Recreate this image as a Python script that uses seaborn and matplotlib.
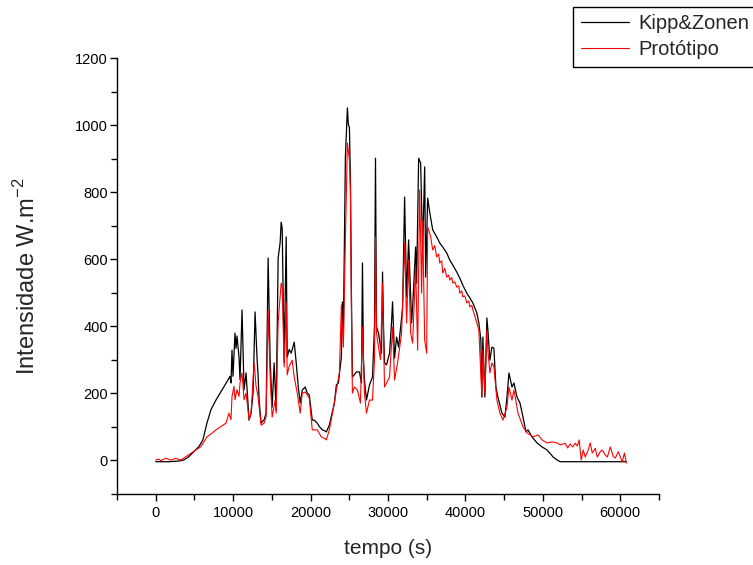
import matplotlib
matplotlib.use("Agg")
import matplotlib.pyplot as plt
import numpy as np
import pandas as pd
import seaborn as sns
from matplotlib.ticker import MultipleLocator

sns.set_theme(style="ticks")
plt.rcParams["font.family"] = ["Liberation Sans", "DejaVu Sans"]

# Kipp&Zonen reference pyranometer (time in s, intensity in W/m2)
t_kipp = [0, 1685, 2981, 3629, 4277, 4925, 5573, 6091, 6610, 7128, 7776, 8554,
          9331, 9590, 9720, 9850, 9979, 10238, 10368, 10498, 10757, 10886, 11146,
          11405, 11664, 12053, 12312, 12571, 12830, 13090, 13219, 13349, 13608,
          13997, 14256, 14515, 14774, 15034, 15293, 15552, 15811, 16070, 16200,
          16330, 16589, 16848, 16978, 17237, 17496, 17885, 18144, 18403, 18662,
          18922, 19310, 19570, 19829, 20218, 20477, 20866, 21125, 21514, 21773,
          22032, 22421, 23069, 23328, 23587, 23976, 24106, 24235, 24494, 24754,
          24883, 25013, 25142, 25272, 25402, 25661, 25920, 26309, 26568, 26698,
          26827, 26957, 27216, 27605, 27994, 28253, 28382, 28512, 28771, 29160,
          29290, 29419, 29549, 29808, 30197, 30456, 30586, 30845, 31104, 31363,
          31622, 31882, 32141, 32400, 32659, 33048, 33178, 33566, 33696, 33955,
          34214, 34474, 34733, 34862, 35122, 35381, 35770, 36288, 36677, 37066,
          37584, 37973, 38362, 38880, 39269, 39658, 40176, 40565, 40954, 41472,
          41731, 41990, 42120, 42250, 42509, 42768, 42898, 43157, 43416, 43675,
          43934, 44194, 44712, 45101, 45360, 45619, 46008, 46267, 46656, 47045,
          47434, 47822, 48082, 48600, 49248, 49896, 50544, 51322, 51840, 52229,
          57413, 60782]
kipp = [-5, -5, -3, 0, 10, 25, 40, 60, 110, 150, 179, 209,
        239, 250, 230, 328, 250, 379, 333, 370, 307, 240, 448,
        209, 260, 119, 140, 200, 442, 300, 254, 180, 110,
        120, 140, 603, 300, 158, 290, 149, 603, 650, 710,
        692, 290, 666, 307, 330, 319, 352, 290, 220, 170,
        209, 218, 200, 194, 119, 119, 110, 100, 90, 88,
        84, 104, 170, 224, 230, 307, 472, 388, 904, 1051,
        1000, 994, 842, 500, 248, 255, 263, 263, 230, 588,
        300, 239, 179, 224, 248, 400, 901, 397, 379, 319,
        561, 400, 290, 284, 319, 412, 472, 304, 367, 337,
        397, 454, 785, 487, 657, 409, 457, 636, 528, 901,
        886, 627, 875, 546, 782, 740, 687, 666, 648, 636,
        618, 597, 582, 561, 543, 522, 498, 484, 469, 439,
        409, 358, 188, 367, 188, 424, 388, 298, 337, 334,
        218, 188, 140, 128, 188, 260, 218, 230, 188, 170,
        128, 84, 90, 69, 51, 39, 30, 9, 0, -5,
        -5, -5]

# Prototipo (prototype sensor)
t_proto = [0, 389, 648, 1296, 1944, 2592, 3240, 3888, 4536, 5184, 5832, 6610,
           7258, 7776, 8424, 9072, 9461, 9720, 9850, 10109, 10238, 10498, 10757,
           10886, 11146, 11405, 11664, 12053, 12312, 12701, 12960, 13219, 13608,
           13997, 14256, 14515, 14774, 15034, 15422, 15552, 15811, 16200, 16330,
           16589, 16848, 16978, 17237, 17626, 17885, 18274, 18662, 18922, 19310,
           19829, 20218, 20866, 21384, 21773, 22032, 22421, 23069, 23328, 23717,
           23976, 24235, 24494, 24754, 25013, 25142, 25272, 25402, 25661, 26050,
           26438, 26698, 26957, 27216, 27605, 27994, 28253, 28382, 28512, 28771,
           29030, 29290, 29549, 29808, 30197, 30586, 30845, 31234, 31752, 32141,
           32400, 32659, 32918, 33178, 33566, 33826, 34085, 34344, 34474, 34733,
           34992, 35122, 35510, 35770, 36029, 36288, 36547, 36677, 36936, 37066,
           37325, 37584, 37843, 37973, 38232, 38362, 38621, 38880, 39139, 39269,
           39528, 39658, 39917, 40176, 40435, 40565, 40824, 40954, 41213, 41472,
           41731, 42120, 42250, 42509, 42768, 42898, 43157, 43416, 43675, 44064,
           44453, 44842, 45360, 45619, 46008, 46267, 46786, 47434, 47952, 48341,
           48730, 49378, 49896, 50544, 51192, 51840, 52229, 52877, 53200, 53525,
           53850, 54173, 54450, 54691, 54950, 55210, 55469, 55858, 56117, 56376,
           56765, 57024, 57413, 57672, 58061, 58320, 58709, 59098, 59357, 59746,
           60005, 60264, 60523, 60782]
proto = [0, 3, -2, 5, 0, 5, 0, 10, 20, 30, 40, 69,
         80, 90, 100, 110, 140, 120, 190, 220, 180, 210, 190,
         230, 260, 180, 200, 120, 140, 290, 220, 188, 104,
         110, 130, 448, 250, 128, 179, 140, 412, 528, 516,
         278, 469, 254, 280, 298, 248, 200, 140, 200, 203,
         185, 90, 90, 69, 65, 60, 90, 170, 209, 260,
         463, 337, 657, 946, 896, 806, 450, 200, 218, 209,
         170, 397, 200, 140, 179, 179, 300, 666, 379, 337,
         300, 528, 218, 230, 248, 397, 239, 290, 379, 648,
         409, 597, 380, 349, 576, 328, 806, 498, 716, 358,
         319, 696, 666, 627, 640, 606, 615, 588, 595, 558,
         572, 546, 552, 537, 545, 528, 532, 516, 520, 498,
         505, 487, 490, 469, 475, 457, 462, 448, 430, 409,
         388, 188, 328, 200, 388, 328, 260, 290, 278, 179,
         140, 119, 158, 218, 179, 209, 140, 99, 81, 75,
         69, 75, 60, 51, 54, 51, 45, 50, 36, 48,
         39, 50, 42, 60, 0, 30, 9, 30, 51, 21,
         35, 9, 25, 30, 15, 9, 39, 10, 6, 25,
         9, -6, 21, -9]

kipp_df = pd.DataFrame({"tempo": t_kipp, "intensidade": kipp})
proto_df = pd.DataFrame({"tempo": t_proto, "intensidade": proto})

fig = plt.figure(figsize=(7.53, 5.65), dpi=100)
ax = fig.add_axes([0.1554, 0.1265, 0.7198, 0.7708])

sns.lineplot(data=kipp_df, x="tempo", y="intensidade", ax=ax, color="black",
             linewidth=0.9, estimator=None, sort=False, label="Kipp&Zonen")
sns.lineplot(data=proto_df, x="tempo", y="intensidade", ax=ax, color="#ff0000",
             linewidth=0.8, estimator=None, sort=False, label="Protótipo")

ax.set_xlim(-5000, 65000)
ax.set_ylim(-100, 1200)
ax.xaxis.set_major_locator(MultipleLocator(10000))
ax.xaxis.set_minor_locator(MultipleLocator(5000))
ax.yaxis.set_major_locator(MultipleLocator(200))
ax.yaxis.set_minor_locator(MultipleLocator(100))
ax.tick_params(which="major", direction="out", length=5, width=1, colors="black",
               labelsize=10.5)
ax.tick_params(axis="y", which="major", pad=1.5)
ax.tick_params(axis="x", which="major", pad=4)
ax.tick_params(which="minor", direction="out", length=4, width=1, colors="black")
ax.set_xlabel("tempo (s)", fontsize=15, labelpad=14)
ax.set_ylabel("Intensidade W.m$^{\\mathregular{-2}}$", fontsize=17, labelpad=25)
sns.despine(ax=ax)
for side in ["left", "bottom"]:
    ax.spines[side].set_linewidth(1)
    ax.spines[side].set_color("black")

ax.get_legend().remove()
handles, labels = ax.get_legend_handles_labels()
leg = fig.legend(handles, labels, loc="upper left", bbox_to_anchor=(0.761, 0.988),
                 fontsize=14.5, frameon=True, fancybox=False, framealpha=1,
                 edgecolor="black", handlelength=2.4, handletextpad=0.45,
                 labelspacing=0.32, borderpad=0.38, borderaxespad=0)
leg.get_frame().set_linewidth(1)

fig.savefig("out.png", dpi=100)
